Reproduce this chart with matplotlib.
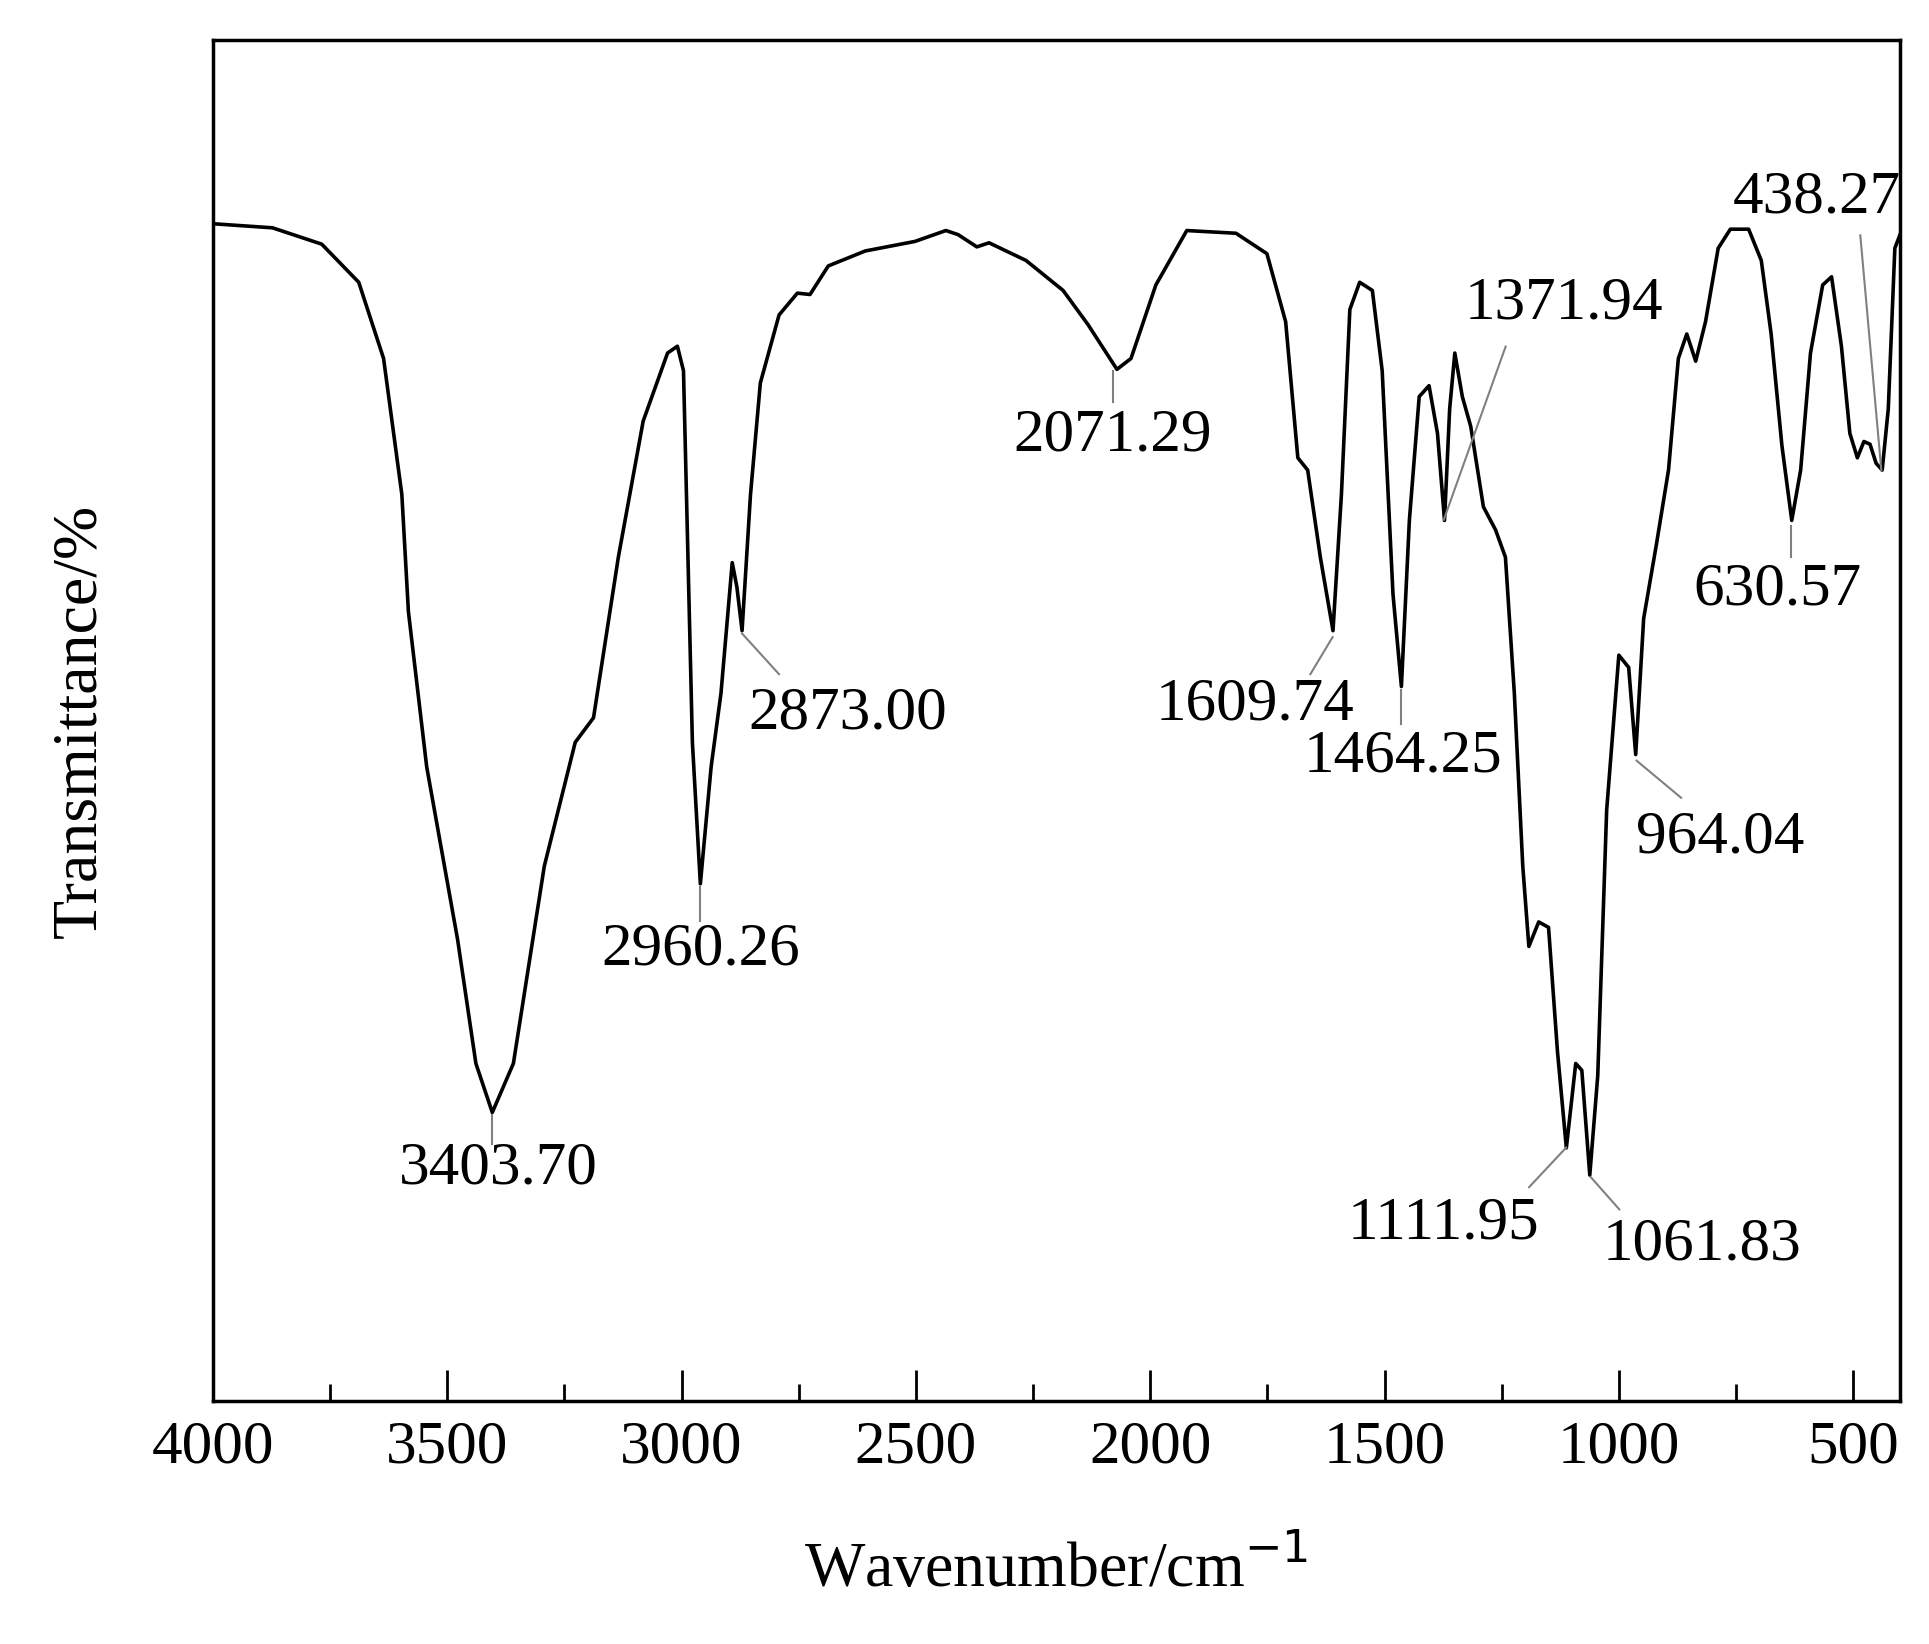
import numpy as np
import matplotlib
matplotlib.use("Agg")
import matplotlib.pyplot as plt

plt.rcParams['font.family'] = ['Liberation Serif']

wavenumber = [4000,3873,3768,3689,3636,3597,3583,3544,3478,3439,3404,3359,3293,3227,3188,3135,3082,3030,3009,2996,2977,2960,2937,2916,2892,2882,2871,2853,2832,2792,2753,2726,2687,2608,2502,2436,2410,2370,2344,2265,2186,2133,2071,2041,1988,1922,1817,1751,1711,1685,1664,1637,1610,1592,1574,1553,1526,1505,1482,1464,1447,1426,1405,1387,1372,1361,1350,1334,1316,1289,1263,1242,1223,1205,1192,1171,1150,1131,1112,1092,1079,1062,1045,1026,1000,979,964,947,920,894,873,855,836,815,788,762,723,696,675,652,631,612,591,565,546,525,507,491,477,464,451,438,425,411,400]
transmittance = [86.5,86.2,85.0,82.2,76.6,66.6,58.0,46.6,33.9,24.8,21.2,24.8,39.3,48.4,50.2,62.0,72.0,77.0,77.5,75.7,48.4,38.0,46.6,52.0,61.6,59.8,56.6,66.6,74.8,79.8,81.4,81.3,83.4,84.5,85.2,86.0,85.7,84.8,85.1,83.8,81.6,79.1,75.8,76.6,82.0,86.0,85.8,84.3,79.3,69.3,68.4,62.0,56.6,66.6,80.2,82.2,81.6,75.7,59.3,52.5,64.7,73.8,74.6,71.1,64.7,72.9,77.0,73.8,71.6,65.7,64.0,62.0,52.0,39.3,33.4,35.2,34.8,25.7,18.6,24.8,24.3,16.6,23.9,43.4,54.8,53.9,47.5,57.5,62.9,68.4,76.6,78.4,76.4,79.3,84.7,86.1,86.1,83.8,78.4,70.2,64.7,68.4,77.0,82.0,82.6,77.5,71.1,69.3,70.5,70.3,68.9,68.4,72.9,84.7,85.7]

peak_labels = ["3403.70","2960.26","2873.00","2071.29","1609.74","1464.25","1371.94","1111.95","1061.83","964.04","630.57","438.27"]

fig = plt.figure(figsize=(19.29,16.44), dpi=100)
ax = fig.add_axes([213/1929, 1-1401/1644, (1900-213)/1929, (1401-40)/1644])

def wn(px): return 4000-(px-172)*500/189.6
def tr(py): return (1133-py)/11.01

ax.plot(wavenumber, transmittance, color='black', lw=2.6, solid_joinstyle='round')
ax.set_xlim(4000, 400)
ax.set_ylim(0, 100)
ax.set_yticks([])
ax.set_xticks([4000,3500,3000,2500,2000,1500,1000,500])
ax.set_xticks(np.arange(3750,400,-500), minor=True)
ax.tick_params(axis='x', direction='in', length=22, width=2, labelsize=44, pad=14)
ax.tick_params(axis='x', which='minor', direction='in', length=12, width=2)
for s in ax.spines.values():
    s.set_linewidth(2.5)
ax.set_xlabel("Wavenumber/cm$^{-1}$", fontsize=46, labelpad=45)
ax.set_ylabel("Transmittance/%", fontsize=46, labelpad=75)

ann = [((403,945),(398,902),(398,925)),
       ((567,768),(566,717),(566,745)),
       ((686,577),(600,512),(630,545)),
       ((900,352),(900,300),(900,325)),
       ((1015,570),(1078,515),(1060,545)),
       ((1135,612),(1133,558),(1133,585)),
       ((1265,245),(1168,420),(1218,280)),
       ((1168,990),(1267,928),(1237,960)),
       ((1377,1007),(1287,952),(1310,978)),
       ((1392,677),(1324,615),(1360,645)),
       ((1438,477),(1449,425),(1449,450)),
       ((1470,160),(1522,380),(1505,190))]
for lab, (t, a, b) in zip(peak_labels, ann):
    ax.plot([wn(a[0]), wn(b[0])], [tr(a[1]), tr(b[1])], color='gray', lw=1.5)
    ax.text(wn(t[0]), tr(t[1]), lab, fontsize=44, ha='center', va='center')

fig.savefig("out.png", dpi=100)
